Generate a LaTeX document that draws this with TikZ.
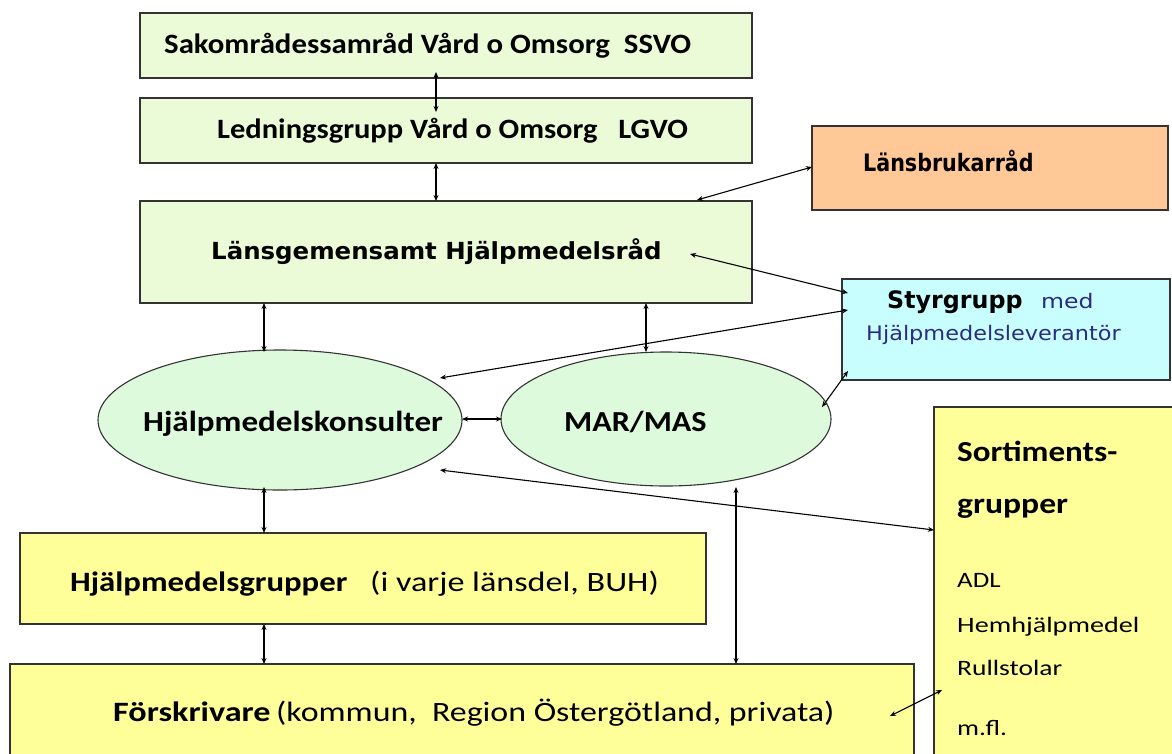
\documentclass[tikz,border=0pt]{standalone}
\usepackage{fontspec}
\usepackage{graphicx}
\usetikzlibrary{arrows.meta,shapes.geometric}
\newfontfamily\calfnt{Carlito}
\newfontfamily\tahfnt{DejaVu Sans}
\newcommand{\sxx}[2]{\scalebox{#1}[1]{#2}}
\definecolor{lgreen}{HTML}{EBFBD7}
\definecolor{egreen}{HTML}{DDFADC}
\definecolor{orng}{HTML}{FFC896}
\definecolor{cyanb}{HTML}{C9FEFF}
\definecolor{yel}{HTML}{FFFF99}
\definecolor{navy}{HTML}{2B2B80}
\definecolor{bord}{HTML}{333333}
\tikzset{
  boxr/.style={draw=bord, line width=1.4pt},
  lab/.style={anchor=base west, inner sep=0pt, text=black},
  con/.style={line width=1.1pt, {Stealth[length=6pt,width=5pt]}-{Stealth[length=6pt,width=5pt]}},
}
\begin{document}
\begin{tikzpicture}[x=1pt,y=-1pt]
\useasboundingbox (0,0) rectangle (1172,753);
% boxes
\draw[boxr, fill=lgreen] (140,13) rectangle (752,78);
\draw[boxr, fill=lgreen] (140,98) rectangle (752,163);
\draw[boxr, fill=lgreen] (140,201) rectangle (752,303);
\draw[boxr, fill=orng] (812,126) rectangle (1168,210);
\draw[boxr, fill=cyanb] (842,279) rectangle (1170,380);
\draw[boxr, fill=egreen, line width=1.1pt] (280,420) ellipse [x radius=182, y radius=70];
\draw[boxr, fill=egreen, line width=1.1pt] (666,419) ellipse [x radius=165, y radius=67];
\draw[boxr, fill=yel] (20,533) rectangle (706,624);
\draw[boxr, fill=yel] (10,664) rectangle (914,760);
\draw[boxr, fill=yel] (934,407) rectangle (1180,760);
% anchor points
\coordinate (ssvoB) at (436,72);
\coordinate (lgvoT) at (436,112);
\coordinate (lgvoB) at (436,163);
\coordinate (lgT) at (436,201);
\coordinate (lbW) at (812,167);
\coordinate (lgE1) at (697,200);
\coordinate (lgE2) at (690,254);
\coordinate (sgW1) at (848,293);
\coordinate (sgW2) at (848,310);
\coordinate (hkNE) at (440,378);
\coordinate (sgW3) at (848,371);
\coordinate (marNE) at (822,407);
\coordinate (lgB1) at (264,303);
\coordinate (hkT) at (264,352);
\coordinate (lgB2) at (646,303);
\coordinate (marT) at (646,352);
\coordinate (hkE) at (462,419);
\coordinate (marW) at (502,419);
\coordinate (soW1) at (934,530);
\coordinate (hkSE) at (440,470);
\coordinate (hkB) at (264,487);
\coordinate (hgT) at (264,533);
\coordinate (marB) at (736,487);
\coordinate (fsT1) at (736,664);
\coordinate (hgB) at (264,624);
\coordinate (fsT2) at (264,664);
\coordinate (soW2) at (942,690);
\coordinate (fsE) at (890,716);
% texts
\node[lab, font=\calfnt\bfseries\fontsize{28}{30}\selectfont] (t1) at (164,53) {\sxx{1.10}{Sakområdessamråd Vård o Omsorg\ \ SSVO}};
\node[lab, font=\calfnt\bfseries\fontsize{28}{30}\selectfont] (t2) at (217,138) {\sxx{1.09}{Ledningsgrupp Vård o Omsorg\ \ \ LGVO}};
\node[lab, font=\tahfnt\bfseries\fontsize{23.5}{26}\selectfont] (t3) at (211,259) {\sxx{1.04}{Länsgemensamt Hjälpmedelsråd}};
\node[lab, font=\tahfnt\bfseries\fontsize{24}{26}\selectfont] (t4) at (863,171) {\sxx{0.86}{Länsbrukarråd}};
\node[lab, font=\tahfnt\bfseries\fontsize{24}{26}\selectfont] (t5) at (887,308) {\sxx{0.99}{Styrgrupp}};
\node[lab, font=\tahfnt\fontsize{20}{22}\selectfont, text=navy] (t5b) at (1041,308) {\sxx{1.18}{med}};
\node[lab, font=\tahfnt\fontsize{20}{22}\selectfont, text=navy] (t6) at (866,340) {\sxx{1.12}{Hjälpmedelsleverantör}};
\node[lab, font=\calfnt\bfseries\fontsize{29}{32}\selectfont] (t7) at (143,431) {\sxx{1.14}{Hjälpmedelskonsulter}};
\node[lab, font=\calfnt\bfseries\fontsize{29}{32}\selectfont] (t8) at (564,431) {\sxx{1.11}{MAR/MAS}};
\node[lab, font=\calfnt\bfseries\fontsize{28}{32}\selectfont] (t9) at (70,591) {\sxx{1.17}{Hjälpmedelsgrupper}};
\node[lab, font=\calfnt\fontsize{28}{32}\selectfont] (t9b) at (370,591) {\sxx{1.22}{(i varje länsdel, BUH)}};
\node[lab, font=\calfnt\bfseries\fontsize{28}{32}\selectfont] (t10) at (113,721) {\sxx{1.22}{Förskrivare}};
\node[lab, font=\calfnt\fontsize{28}{32}\selectfont] (t10b) at (276,721) {\sxx{1.21}{(kommun,\ \ Region Östergötland, privata)}};
\node[lab, font=\calfnt\bfseries\fontsize{29}{32}\selectfont] (s1) at (957,461) {\sxx{1.14}{Sortiments-}};
\node[lab, font=\calfnt\bfseries\fontsize{29}{32}\selectfont] (s2) at (957,513) {\sxx{1.16}{grupper}};
\node[lab, font=\calfnt\fontsize{22}{26}\selectfont] (s3) at (957,587) {\sxx{1.22}{ADL}};
\node[lab, font=\calfnt\fontsize{22}{26}\selectfont] (s4) at (957,632) {\sxx{1.28}{Hemhjälpmedel}};
\node[lab, font=\calfnt\fontsize{22}{26}\selectfont] (s5) at (957,675) {\sxx{1.25}{Rullstolar}};
\node[lab, font=\calfnt\fontsize{22}{26}\selectfont] (s6) at (957,735) {\sxx{1.25}{m.fl.}};
% connectors
\draw[con] (ssvoB) -- (lgvoT);
\draw[con] (lgvoB) -- (lgT);
\draw[con] (lbW) -- (lgE1);
\draw[con] (lgE2) -- (sgW1);
\draw[con] (sgW2) -- (hkNE);
\draw[con] (sgW3) -- (marNE);
\draw[con] (lgB1) -- (hkT);
\draw[con] (lgB2) -- (marT);
\draw[con] (hkE) -- (marW);
\draw[con] (soW1) -- (hkSE);
\draw[con] (hkB) -- (hgT);
\draw[con] (marB) -- (fsT1);
\draw[con] (hgB) -- (fsT2);
\draw[con] (soW2) -- (fsE);
\end{tikzpicture}
\end{document}
